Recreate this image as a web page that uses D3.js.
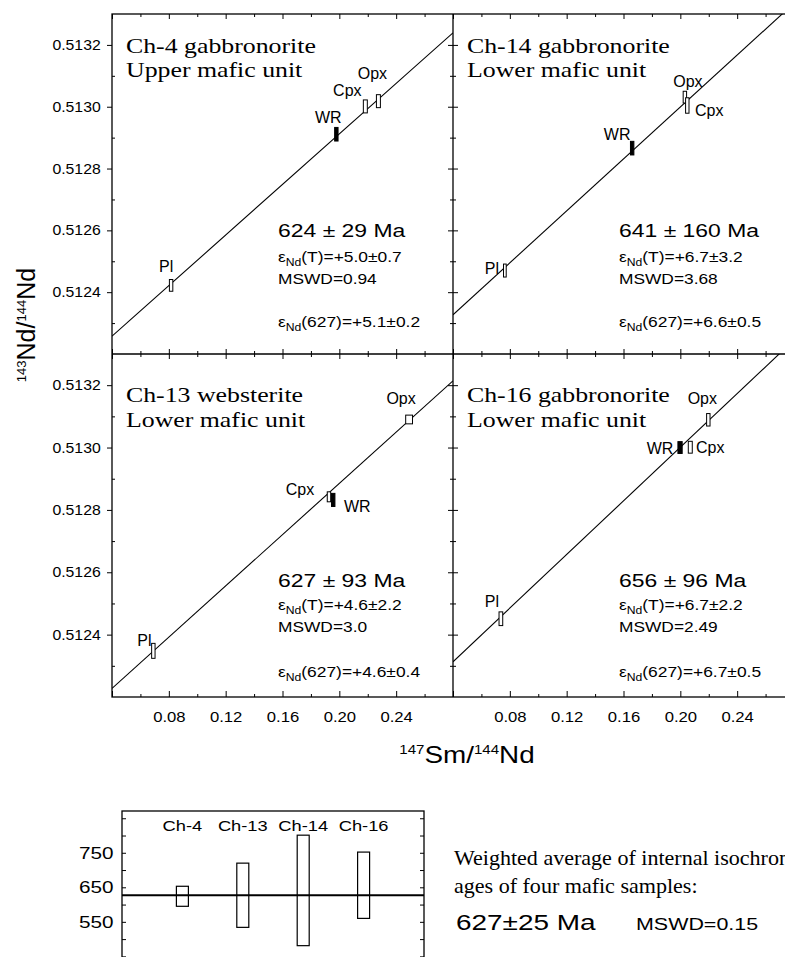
<!DOCTYPE html>
<html>
<head>
<meta charset="utf-8">
<script src="https://cdnjs.cloudflare.com/ajax/libs/d3/7.8.5/d3.min.js"></script>
<style>
body { margin: 0; background: #fff; }
text { font-family: "Liberation Sans", Arial, sans-serif; fill: #000; }
.serif { font-family: "Liberation Serif", "Times New Roman", serif; }
</style>
</head>
<body>
<script>
// panel order: top-left, top-right, bottom-left, bottom-right
var samples = ["Ch-4", "Ch-14", "Ch-13", "Ch-16"];
var rockNames = ["Ch-4 gabbronorite", "Ch-14 gabbronorite", "Ch-13 websterite", "Ch-16 gabbronorite"];
var units = ["Upper mafic unit", "Lower mafic unit", "Lower mafic unit", "Lower mafic unit"];
var ages = [624, 641, 627, 656];
var ageErrors = [29, 160, 93, 96];
var eNdT = ["+5.0±0.7", "+6.7±3.2", "+4.6±2.2", "+6.7±2.2"];
var mswd = ["0.94", "3.68", "3.0", "2.49"];
var eNd627 = ["+5.1±0.2", "+6.6±0.5", "+4.6±0.4", "+6.7±0.5"];

// isochron lines (intercept and slope)
var intercepts = [0.512094, 0.512159, 0.512063, 0.512141];
var slopes = [0.00409, 0.00420, 0.00411, 0.00430];

// fractions: [mineral, 147Sm/144Nd, 143Nd/144Nd, error x, error y]
var ch4Points = [
    ["Pl", 0.0816, 0.512422, 0.0012, 0.000019],
    ["WR", 0.1979, 0.512911, 0.0012, 0.000022],
    ["Cpx", 0.2183, 0.513001, 0.0014, 0.000021],
    ["Opx", 0.2275, 0.513018, 0.0014, 0.000021]
];
var ch14Points = [
    ["Pl", 0.0765, 0.512470, 0.00095, 0.000021],
    ["WR", 0.1661, 0.512866, 0.0012, 0.000022],
    ["Opx", 0.2032, 0.513031, 0.0012, 0.000019],
    ["Cpx", 0.2049, 0.513004, 0.0012, 0.000025]
];
var ch13Points = [
    ["Pl", 0.0691, 0.512348, 0.0012, 0.000024],
    ["Cpx", 0.1927, 0.512842, 0.0012, 0.000016],
    ["WR", 0.1957, 0.512832, 0.0012, 0.000021],
    ["Opx", 0.2491, 0.513090, 0.0024, 0.000014]
];
var ch16Points = [
    ["Pl", 0.0737, 0.512451, 0.0013, 0.000022],
    ["WR", 0.1998, 0.513000, 0.0015, 0.000019],
    ["Cpx", 0.2070, 0.513001, 0.0014, 0.000019],
    ["Opx", 0.2197, 0.513089, 0.0012, 0.000020]
];
var panelPoints = [ch4Points, ch14Points, ch13Points, ch16Points];

// where each mineral label sits relative to its box (px)
var labelOffsets = [
    [[-5, -13], [-8, -11], [-18, -10], [-6, -22]],
    [[-13, 3], [-15, -8], [3, -10], [22, 11]],
    [[-9, -5], [-29, -2], [24, 12], [-8, -15]],
    [[-9, -12], [-20, 6], [20, 6], [-6, -16]]
];

// ticks
var xTickLabels = [0.08, 0.12, 0.16, 0.20, 0.24];
var xTicksMajor = [0.04, 0.08, 0.12, 0.16, 0.20, 0.24, 0.28];
var xTicksMinor = [0.06, 0.10, 0.14, 0.18, 0.22, 0.26];
var yTickLabels = [0.5124, 0.5126, 0.5128, 0.5130, 0.5132];
var yTicksMinor = [0.5123, 0.5125, 0.5127, 0.5129, 0.5131];

// weighted average box plot
var avgOrder = ["Ch-4", "Ch-13", "Ch-14", "Ch-16"];
var avgAge = 627;
var avgErr = 25;
var avgMswd = "0.15";
var ageTickLabels = [550, 650, 750];
var ageTicks = [450, 500, 550, 600, 650, 700, 750, 800, 850];

var W = 785, H = 957;

var svg = d3.select("body")
            .append("svg")
            .attr("width", W)
            .attr("height", H);

svg.append("rect").attr("width", W).attr("height", H).attr("fill", "#fff");

// text that is stretched horizontally like the scanned figure
function addText(parent, x, y, k) {
    return parent.append("g")
                 .attr("transform", "translate(" + x + "," + y + ") scale(" + k + ",1)")
                 .append("text");
}

function epsilon(t, label, value) {
    t.append("tspan").text("ε");
    t.append("tspan").attr("dy", 4).attr("font-size", "0.7em").text("Nd");
    t.append("tspan").attr("dy", -4).text(label + "=" + value);
}

// tick marks only, crossing a line by up/down px
function tickMarksX(g, scale, yPos, vals, up, down) {
    g.append("g")
     .attr("transform", "translate(0," + (yPos - up) + ")")
     .call(d3.axisBottom(scale).tickValues(vals).tickSize(up + down).tickFormat(""))
     .call(function(a) { a.select(".domain").remove(); });
}

function tickMarksY(g, scale, xPos, vals, left, right) {
    g.append("g")
     .attr("transform", "translate(" + (xPos - left) + ",0)")
     .call(d3.axisRight(scale).tickValues(vals).tickSize(left + right).tickFormat(""))
     .call(function(a) { a.select(".domain").remove(); });
}

var cols = [{x0: 112, x1: 453}, {x0: 453, x1: 794}];
var rows = [{y0: 14, y1: 354}, {y0: 354, y1: 697}];

var g_iso = svg.append("g");

for (var i = 0; i < 4; i++) {
    var c = i % 2, r = Math.floor(i / 2);
    var col = cols[c], row = rows[r];

    var xScale = d3.scaleLinear().domain([0.04, 0.28]).range([col.x0, col.x1]);
    var yScale = d3.scaleLinear().domain([0.5122, 0.5133]).range([row.y1, row.y0]);

    var clipId = "clip" + i;
    g_iso.append("clipPath").attr("id", clipId)
         .append("rect")
         .attr("x", col.x0).attr("y", row.y0)
         .attr("width", col.x1 - col.x0).attr("height", row.y1 - row.y0);

    var panel = g_iso.append("g");

    // isochron
    var a = intercepts[i], b = slopes[i];
    var line = d3.line()
                 .x(function(d) { return xScale(d); })
                 .y(function(d) { return yScale(a + b * d); });
    panel.append("path")
         .datum(xScale.domain())
         .attr("d", line)
         .attr("clip-path", "url(#" + clipId + ")")
         .attr("fill", "none")
         .attr("stroke", "#000")
         .attr("stroke-width", 1.1);

    // error boxes
    var pts = panelPoints[i];
    panel.selectAll("rect.pt")
         .data(pts)
         .enter()
         .append("rect")
         .attr("class", "pt")
         .attr("x", function(d) { return xScale(d[1] - d[3]); })
         .attr("width", function(d) { return xScale(d[1] + d[3]) - xScale(d[1] - d[3]); })
         .attr("y", function(d) { return yScale(d[2] + d[4]); })
         .attr("height", function(d) { return yScale(d[2] - d[4]) - yScale(d[2] + d[4]); })
         .attr("fill", function(d) { return d[0] == "WR" ? "#000" : "#fff"; })
         .attr("stroke", "#000")
         .attr("stroke-width", 1);

    var offs = labelOffsets[i];
    panel.selectAll("text.min")
         .data(pts)
         .enter()
         .append("text")
         .attr("class", "min")
         .attr("x", function(d, j) { return xScale(d[1]) + offs[j][0]; })
         .attr("y", function(d, j) { return yScale(d[2]) + offs[j][1]; })
         .attr("text-anchor", "middle")
         .attr("font-size", 16)
         .text(function(d) { return d[0]; });

    // sample name
    var tx = col.x0 + 14;
    addText(panel, tx, row.y0 + (r == 0 ? 39 : 48), 1.23).attr("class", "serif").attr("font-size", 21).text(rockNames[i]);
    addText(panel, tx, row.y0 + (r == 0 ? 63 : 73), 1.23).attr("class", "serif").attr("font-size", 21).text(units[i]);

    // age block
    var ax = col.x0 + 166;
    var dyRow = r == 0 ? 0 : 10;
    addText(panel, ax, row.y0 + 223 + dyRow, 1.24).attr("font-size", 18.5)
        .text(ages[i] + " ± " + ageErrors[i] + " Ma");
    epsilon(addText(panel, ax, row.y0 + 248 + dyRow - (r == 0 ? 0 : 2), 1.2).attr("font-size", 14.5), "(T)", eNdT[i]);
    addText(panel, ax, row.y0 + 270 + dyRow - (r == 0 ? 0 : 2), 1.24).attr("font-size", 14).text("MSWD=" + mswd[i]);
    epsilon(addText(panel, ax, row.y0 + 313 + dyRow, 1.2).attr("font-size", 14.5), "(627)", eNd627[i]);

    // ticks along the top of this panel
    if (r == 0) {
        tickMarksX(panel, xScale, row.y0, xTicksMajor, 0, 5);
        tickMarksX(panel, xScale, row.y0, xTicksMinor, 0, 3);
    } else {
        tickMarksX(panel, xScale, row.y0, xTicksMajor, 5, 5);
        tickMarksX(panel, xScale, row.y0, xTicksMinor, 3, 3);
        // bottom axis
        tickMarksX(panel, xScale, row.y1, xTicksMajor, 6, 0);
        tickMarksX(panel, xScale, row.y1, xTicksMinor, 3, 0);
        var xa = panel.append("g")
                      .attr("transform", "translate(0," + row.y1 + ")")
                      .call(d3.axisBottom(xScale).tickValues(xTickLabels).tickSize(0).tickPadding(15).tickFormat(d3.format(".2f")));
        xa.select(".domain").remove();
        xa.selectAll("text").attr("font-size", 14.5).attr("font-family", null).attr("transform", "scale(1.15,1)");
    }

    if (c == 0) {
        var ya = panel.append("g")
                      .attr("transform", "translate(" + col.x0 + ",0)")
                      .call(d3.axisLeft(yScale).tickValues(yTickLabels).tickSize(5).tickPadding(5).tickFormat(d3.format(".4f")));
        ya.select(".domain").remove();
        ya.selectAll("text").attr("font-size", 14).attr("font-family", null).attr("transform", "scale(1.13,1)");
        tickMarksY(panel, yScale, col.x0, yTicksMinor, 0, 3);
        // divider between columns
        tickMarksY(panel, yScale, col.x1, yTickLabels, 5, 5);
        tickMarksY(panel, yScale, col.x1, yTicksMinor, 3, 3);
    }
}

// frames
svg.append("rect")
   .attr("x", 112).attr("y", 14).attr("width", 682).attr("height", 683)
   .attr("fill", "none").attr("stroke", "#000").attr("stroke-width", 1.3);
svg.append("line")
   .attr("x1", 112).attr("x2", 794).attr("y1", 354).attr("y2", 354)
   .attr("stroke", "#000").attr("stroke-width", 1.3);
svg.append("line")
   .attr("x1", 453).attr("x2", 453).attr("y1", 14).attr("y2", 697)
   .attr("stroke", "#000").attr("stroke-width", 1.3);

// axis titles
var yt = svg.append("text")
            .attr("transform", "translate(35,325) rotate(-90)")
            .attr("text-anchor", "middle")
            .attr("font-size", 25);
yt.append("tspan").attr("font-size", 13).attr("dy", -9).text("143");
yt.append("tspan").attr("dy", 9).text("Nd/");
yt.append("tspan").attr("font-size", 13).attr("dy", -9).text("144");
yt.append("tspan").attr("dy", 9).text("Nd");

var xt = addText(svg, 467, 763, 1.16).attr("text-anchor", "middle").attr("font-size", 24);
xt.append("tspan").attr("font-size", 13).attr("dy", -9).text("147");
xt.append("tspan").attr("dy", 9).text("Sm/");
xt.append("tspan").attr("font-size", 13).attr("dy", -9).text("144");
xt.append("tspan").attr("dy", 9).text("Nd");

// weighted average of the four internal isochron ages
var xAvg = d3.scalePoint().domain(avgOrder).range([122, 424]).padding(1);
var yAvg = d3.scaleLinear().domain([425, 871]).range([965, 811]);

var g_avg = svg.append("g");

g_avg.append("rect")
     .attr("x", 122).attr("y", yAvg(871))
     .attr("width", 302).attr("height", yAvg(425) - yAvg(871))
     .attr("fill", "none").attr("stroke", "#000").attr("stroke-width", 1.3);

g_avg.append("line")
     .attr("x1", 122).attr("x2", 424)
     .attr("y1", yAvg(avgAge)).attr("y2", yAvg(avgAge))
     .attr("stroke", "#000").attr("stroke-width", 1.8);

g_avg.selectAll("rect.age")
     .data(avgOrder)
     .enter()
     .append("rect")
     .attr("class", "age")
     .attr("x", function(d) { return xAvg(d) - 6; })
     .attr("width", 12)
     .attr("y", function(d) { var k = samples.indexOf(d); return yAvg(ages[k] + ageErrors[k]); })
     .attr("height", function(d) { var k = samples.indexOf(d); return yAvg(ages[k] - ageErrors[k]) - yAvg(ages[k] + ageErrors[k]); })
     .attr("fill", "none")
     .attr("stroke", "#000")
     .attr("stroke-width", 1.2);

g_avg.selectAll("g.cat")
     .data(avgOrder)
     .enter()
     .append("g")
     .attr("class", "cat")
     .attr("transform", function(d) { return "translate(" + xAvg(d) + ",831) scale(1.22,1)"; })
     .append("text")
     .attr("text-anchor", "middle")
     .attr("font-size", 15)
     .text(function(d) { return d; });

tickMarksY(g_avg, yAvg, 122, ageTicks, 0, 4);
tickMarksY(g_avg, yAvg, 424, ageTicks, 4, 0);
var aa = g_avg.append("g")
              .attr("transform", "translate(122,0)")
              .call(d3.axisLeft(yAvg).tickValues(ageTickLabels).tickSize(0).tickPadding(7));
aa.select(".domain").remove();
aa.selectAll("text").attr("font-size", 17).attr("font-family", null).attr("transform", "scale(1.22,1)");

addText(g_avg, 454, 865, 1.05).attr("class", "serif").attr("font-size", 21).text("Weighted average of internal isochron");
addText(g_avg, 454, 893, 1.05).attr("class", "serif").attr("font-size", 21).text("ages of four mafic samples:");
addText(g_avg, 456, 930, 1.27).attr("font-size", 22).text(avgAge + "±" + avgErr + " Ma");
addText(g_avg, 636, 930, 1.3).attr("font-size", 16.5).text("MSWD=" + avgMswd);
</script>
</body>
</html>
